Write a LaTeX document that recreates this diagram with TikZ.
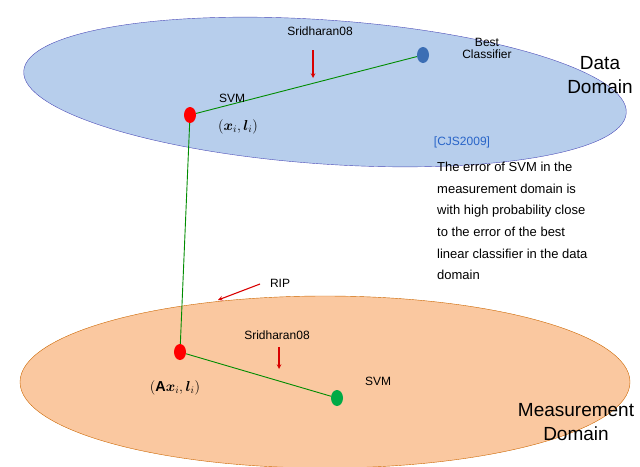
\documentclass[tikz,border=0pt]{standalone}
\usepackage{fontspec}
\setmainfont{Liberation Sans}
\usepackage{amsmath}
\usetikzlibrary{shapes.geometric}
\begin{document}
\begin{tikzpicture}[x=1pt,y=-1pt,
  lbl/.style={font=\fontsize{12}{14}\selectfont},
  big/.style={font=\fontsize{19}{24}\selectfont,align=center},
  dot/.style={ellipse,minimum width=12,minimum height=16,inner sep=0},
  conn/.style={green!55!black,line width=0.9},
  redarr/.style={red!85!black,line width=1.1,->,>=stealth}]
\useasboundingbox (0,0) rectangle (640,466);
\draw[blue!60!black!70,fill={rgb,255:red,183;green,206;blue,236}] (325,92) ellipse [x radius=302,y radius=72,rotate=-4];
\draw[orange!80!black,fill={rgb,255:red,250;green,200;blue,160}] (325,382) ellipse [x radius=305,y radius=86];
\node[dot,fill=red] (s1) at (190,115) {};
\node[dot,fill={rgb,255:red,60;green,110;blue,180}] (bc) at (423,55) {};
\node[dot,fill=red] (s2) at (180,352) {};
\node[dot,fill={rgb,255:red,0;green,170;blue,70}] (g) at (337,398) {};
\draw[conn] (s1) -- (bc);
\draw[conn] (s1) -- (s2);
\draw[conn] (s2) -- (g);
\node[lbl] (t1) at (320,31) {Sridharan08};
\coordinate (a1) at (313,78);
\draw[redarr] (313,50) -- (a1);
\node[lbl,align=center] (bl) at (487,48) {Best\\[-2pt]Classifier};
\node[big] (dd) at (600,75) {Data\\Domain};
\node[lbl] (sv1) at (232,98) {SVM};
\node (xl) at (238,127) {\Large$(\boldsymbol{x}_i,\boldsymbol{l}_i)$};
\node[lbl,text={rgb,255:red,40;green,100;blue,200}] (cjs) at (462,142) {[CJS2009]};
\node[anchor=north west,text width=200,align=justify,font=\fontsize{13}{21.6}\selectfont,inner sep=0] (par) at (437,162)
 {The error of SVM in the\\ measurement domain is\\ with high probability close\\ to the error of the best\\ linear classifier in the data\\ domain};
\node[lbl] (rip) at (280,283) {RIP};
\coordinate (a2) at (218,300);
\draw[redarr] (260,284) -- (a2);
\node[lbl] (t2) at (277,335) {Sridharan08};
\coordinate (a3) at (279,369);
\draw[redarr] (279,347) -- (a3);
\node[lbl] (sv2) at (378,381) {SVM};
\node (ax) at (175,388) {\Large$(\mathbf{A}\boldsymbol{x}_i,\boldsymbol{l}_i)$};
\node[big] (md) at (576,422) {Measurement\\Domain};
\end{tikzpicture}
\end{document}
